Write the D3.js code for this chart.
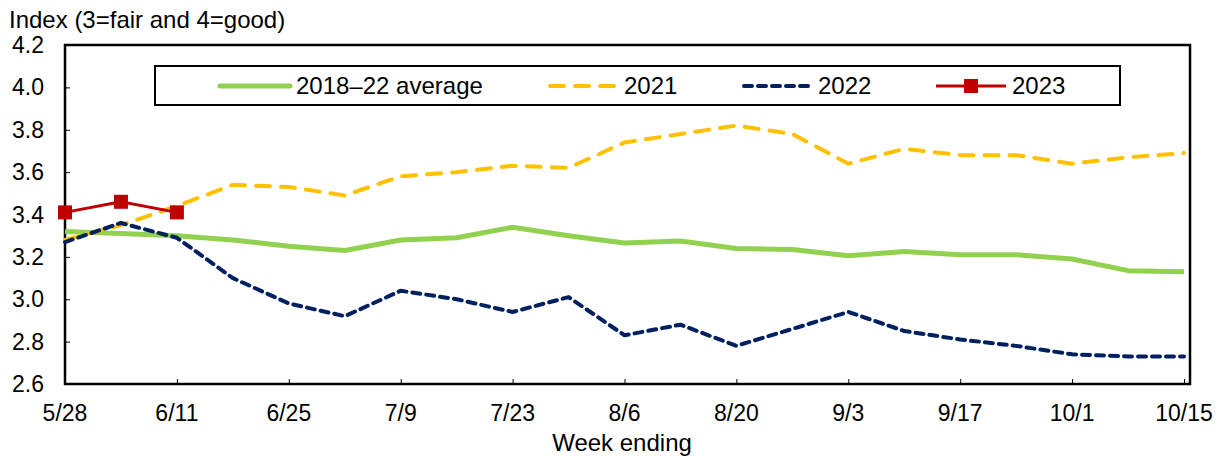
<!DOCTYPE html>
<html>
<head>
<meta charset="utf-8">
<script src="https://cdn.jsdelivr.net/npm/d3@7"></script>
<style>
  html, body { margin: 0; padding: 0; background: #fff; }
  svg { display: block; font-family: "Liberation Sans", Arial, sans-serif; }
</style>
</head>
<body>
<svg id="chart" width="1223" height="456"></svg>
<script>
// Week-ending dates, 5/28 through 10/15
const weeks = ["5/28","6/4","6/11","6/18","6/25","7/2","7/9","7/16","7/23","7/30",
               "8/6","8/13","8/20","8/27","9/3","9/10","9/17","9/24","10/1","10/8","10/15"];
const tickWeeks = ["5/28","6/11","6/25","7/9","7/23","8/6","8/20","9/3","9/17","10/1","10/15"];
const yTicks = [2.6, 2.8, 3.0, 3.2, 3.4, 3.6, 3.8, 4.0, 4.2];

const avg2018_22 = [3.32,3.31,3.30,3.28,3.25,3.23,3.28,3.29,3.34,3.30,3.265,3.275,3.24,3.235,3.205,3.225,3.21,3.21,3.19,3.135,3.13];
const y2021 = [3.28,3.35,3.44,3.54,3.53,3.49,3.58,3.60,3.63,3.62,3.74,3.78,3.82,3.78,3.64,3.71,3.68,3.68,3.64,3.67,3.69];
const y2022 = [3.27,3.36,3.29,3.10,2.98,2.92,3.04,3.00,2.94,3.01,2.83,2.88,2.78,2.86,2.94,2.85,2.81,2.78,2.74,2.73,2.73];
const y2023 = [3.41,3.46,3.41];

(function () {
const svg = d3.select("#chart");
const m = { left: 65, right: 1190, top: 45, bottom: 384 };
const x = d3.scalePoint().domain(weeks).range([m.left, 1184]);
const y = d3.scaleLinear().domain([2.6, 4.2]).range([m.bottom, m.top]);

const tickFont = 23, textFont = 24;
const markerSize = 14;

// Y axis ticks (inward) and labels
const yAxis = svg.append("g").attr("transform", `translate(${m.left},0)`)
  .call(d3.axisRight(y).tickValues(yTicks).tickSize(5).tickFormat(""));
yAxis.select(".domain").remove();
yAxis.selectAll("line").attr("stroke", "#000");
svg.append("g").selectAll("text").data(yTicks).join("text")
  .attr("x", 44).attr("y", d => y(d)).attr("dy", "0.35em")
  .attr("text-anchor", "end").attr("font-size", tickFont)
  .text(d => d.toFixed(1));

// X axis ticks (inward) and labels
const xAxis = svg.append("g").attr("transform", `translate(0,${m.bottom})`)
  .call(d3.axisTop(x).tickValues(tickWeeks).tickSize(5).tickFormat(""));
xAxis.select(".domain").remove();
xAxis.selectAll("line").attr("stroke", "#000");
svg.append("g").selectAll("text").data(tickWeeks).join("text")
  .attr("x", d => x(d)).attr("y", 421)
  .attr("text-anchor", "middle").attr("font-size", tickFont)
  .text(d => d);

// Plot frame
svg.append("rect").attr("x", m.left).attr("y", m.top)
  .attr("width", m.right - m.left).attr("height", m.bottom - m.top)
  .attr("fill", "none").attr("stroke", "#000").attr("stroke-width", 2.5);

// Titles
svg.append("text").attr("x", 9).attr("y", 28).attr("font-size", textFont)
  .text("Index (3=fair and 4=good)");
svg.append("text").attr("x", 622).attr("y", 451).attr("text-anchor", "middle")
  .attr("font-size", textFont).text("Week ending");

const line = d3.line().x((d, i) => x(weeks[i])).y(d => y(d));

const series = [
  { name: "2018–22 average", data: avg2018_22, color: "#92d050", width: 5, dash: null, cap: "butt" },
  { name: "2021", data: y2021, color: "#ffc000", width: 4, dash: "14 11", cap: "round" },
  { name: "2022", data: y2022, color: "#002060", width: 4, dash: "8 6", cap: "round" },
  { name: "2023", data: y2023, color: "#c00000", width: 3, dash: null, cap: "butt", marker: true }
];

const plot = svg.append("g");
series.forEach(s => {
  plot.append("path").datum(s.data)
    .attr("d", line).attr("fill", "none")
    .attr("stroke", s.color).attr("stroke-width", s.width)
    .attr("stroke-linecap", s.cap).attr("stroke-linejoin", "round")
    .attr("stroke-dasharray", s.dash);
  if (s.marker) {
    plot.selectAll(null).data(s.data).join("rect")
      .attr("x", (d, i) => x(weeks[i]) - markerSize / 2).attr("y", d => y(d) - markerSize / 2)
      .attr("width", markerSize).attr("height", markerSize).attr("fill", s.color);
  }
});

// Legend
const legend = svg.append("g");
legend.append("rect").attr("x", 155).attr("y", 66).attr("width", 965).attr("height", 39)
  .attr("fill", "#fff").attr("stroke", "#000").attr("stroke-width", 2);
const legendX = [220, 548, 742, 936];
series.forEach((s, k) => {
  const lx = legendX[k], ly = 86;
  legend.append("line").attr("x1", lx + (s.cap === "round" ? 2 : 0)).attr("x2", lx + 70)
    .attr("y1", ly).attr("y2", ly)
    .attr("stroke", s.color).attr("stroke-width", s.width)
    .attr("stroke-linecap", s.cap === "butt" && !s.marker ? "round" : s.cap)
    .attr("stroke-dasharray", s.dash);
  if (s.marker) {
    legend.append("rect").attr("x", lx + 35 - markerSize / 2).attr("y", ly - markerSize / 2)
      .attr("width", markerSize).attr("height", markerSize).attr("fill", s.color);
  }
  legend.append("text").attr("x", lx + 76).attr("y", ly).attr("dy", "0.35em")
    .attr("font-size", textFont).text(s.name);
});
})();
</script>
</body>
</html>
